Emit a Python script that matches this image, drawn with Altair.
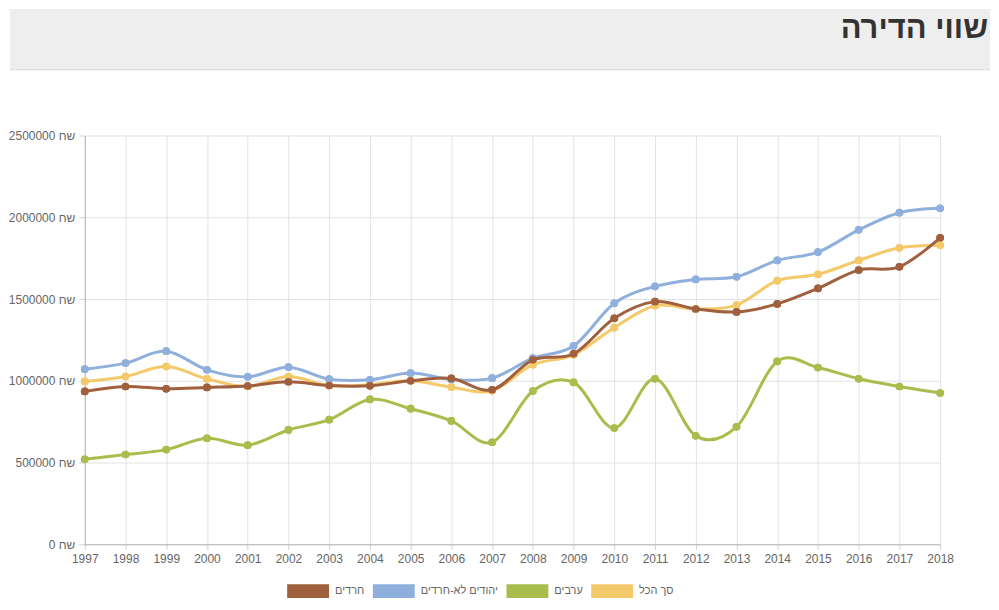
import altair as alt
import pandas as pd

years = list(range(1997, 2019))
series_names = ["חרדים", "יהודים לא-חרדים", "ערבים", "סך הכל"]
series_colors = ["#a0603e", "#8fb0dc", "#a9bd4c", "#f4c96a"]

haredim = [935000, 965000, 951000, 959000, 968000, 994000, 971000, 969000, 1000000, 1014000, 945000,
           1128000, 1165000, 1382000, 1484000, 1439000, 1421000, 1470000, 1565000, 1677000, 1697000, 1874000]
non_haredim = [1071000, 1108000, 1181000, 1067000, 1024000, 1083000, 1010000, 1006000, 1047000, 1008000, 1016000,
               1138000, 1213000, 1474000, 1577000, 1620000, 1636000, 1736000, 1787000, 1923000, 2028000, 2055000]
arabs = [520000, 549000, 579000, 648000, 606000, 699000, 762000, 886000, 829000, 754000, 624000,
         937000, 990000, 711000, 1012000, 663000, 718000, 1118000, 1081000, 1012000, 965000, 925000]
total = [996000, 1026000, 1087000, 1012000, 965000, 1026000, 971000, 976000, 1000000, 961000, 939000,
         1098000, 1159000, 1325000, 1459000, 1439000, 1463000, 1612000, 1651000, 1736000, 1813000, 1829000]

y_ticks = [0, 500000, 1000000, 1500000, 2000000, 2500000]
title_text = "שווי הדירה"

rows = []
for name, vals in zip(series_names, [haredim, non_haredim, arabs, total]):
    for yr, v in zip(years, vals):
        rows.append({"year": yr, "value": v, "series": name})
df = pd.DataFrame(rows)

x_enc = alt.X("year:Q", scale=alt.Scale(domain=[1997, 2018], nice=False, zero=False),
              axis=alt.Axis(values=years, format="d", title=None, labelFlush=False,
                            labelPadding=4, tickSize=5))
y_enc = alt.Y("value:Q", scale=alt.Scale(domain=[0, 2500000], nice=False),
              axis=alt.Axis(values=y_ticks, format="d", title=None,
                            labelExpr="datum.label + ' שח'", tickSize=6, labelPadding=4))

base = alt.Chart(df)

legend_layer = base.mark_point(filled=True, size=60, opacity=1).encode(
    x=x_enc, y=y_enc,
    color=alt.Color("series:N", scale=alt.Scale(domain=series_names, range=series_colors),
                    legend=alt.Legend(orient="none", legendX=203, legendY=436, direction="horizontal",
                                      title=None, symbolType="M-1,-0.333L1,-0.333L1,0.333L-1,0.333Z",
                                      symbolSize=1764, labelFontSize=11, labelColor="#666",
                                      columnPadding=8, labelOffset=6, symbolStrokeWidth=0)),
)

layers = [legend_layer]
draw_order = ["סך הכל", "ערבים", "יהודים לא-חרדים", "חרדים"]
for name in draw_order:
    sub = base.transform_filter(alt.datum.series == name)
    line = sub.mark_line(interpolate="cardinal", strokeWidth=3).encode(
        x=x_enc, y=y_enc, color=alt.Color("series:N", legend=None))
    pts = sub.mark_point(filled=True, size=60, opacity=1).encode(
        x=x_enc, y=y_enc, color=alt.Color("series:N", legend=None))
    layers += [line, pts]

hdr_df = pd.DataFrame({"t": [title_text]})
hdr = alt.Chart(hdr_df)
header_rect = hdr.mark_rect(color="#eeeeee").encode(
    x=alt.value(-75), x2=alt.value(908), y=alt.value(-127), y2=alt.value(-66))
header_rule = hdr.mark_rule(color="#d8d8d8", strokeWidth=1).encode(
    x=alt.value(-75), x2=alt.value(908), y=alt.value(-66))
header_text = hdr.mark_text(align="right", baseline="alphabetic", fontSize=31, fontWeight="bold",
                            font="Liberation Sans", color="#333333").encode(
    x=alt.value(906), y=alt.value(-98), text="t:N")

chart = alt.layer(header_rect, header_rule, header_text, *layers).properties(
    width=858, height=410, padding=0, background="white"
).configure(font="Liberation Sans").configure_view(stroke=None).configure_axis(
    labelColor="#666666", labelFontSize=12, gridColor="#e3e3e3", tickColor="#d0d0d0",
    domainColor="#b5b5b5"
)

chart.save("out.html", embed_options={"renderer": "svg", "actions": False})
